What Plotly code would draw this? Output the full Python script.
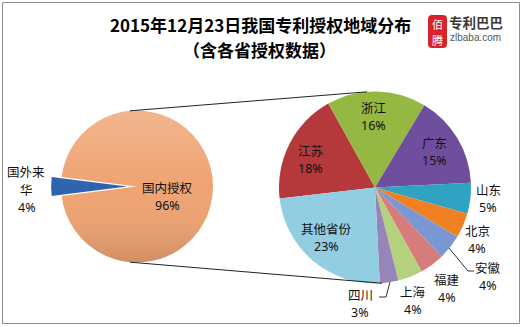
import base64
import math
import plotly.graph_objects as go

W, H = 521, 327

# Overall split of patent grants
main_labels = ["国外来华", "国内授权"]
main_values = [4, 96]
main_colors = ["#2E63AE", "#EFA372"]

# Breakdown of domestic grants by province (percent of all grants)
prov_labels = ["江苏", "浙江", "广东", "山东", "北京", "安徽", "福建", "上海", "四川", "其他省份"]
prov_values = [18, 16, 15, 5, 4, 4, 4, 4, 3, 23]
prov_colors = ["#B5393A", "#95B842", "#6F4F9D", "#2FA3C1", "#F08123",
               "#7A96D3", "#D67C7A", "#B4D17D", "#9785BA", "#92CDE2"]

title_lines = ["2015年12月23日我国专利授权地域分布", "（含各省授权数据）"]

# Layout geometry in pixels (origin top-left)
L_CX, L_CY, L_R, L_PULL = 137, 186.5, 76, 0.13
R_CX, R_CY, R_R = 375, 187.5, 96
R_ROTATION = 263.4

# Label anchor points: centre of the name line (pixels)
label_pos = {
    "国内授权": (167, 187), "江苏": (310, 150), "浙江": (373, 107),
    "广东": (434, 142), "其他省份": (326, 228), "山东": (488, 189),
    "北京": (477, 230), "安徽": (488, 267), "福建": (447, 279),
    "上海": (413, 291), "四川": (360, 294),
}
LINE_GAP = 18.2

CJK = "Noto Sans CJK SC, sans-serif"
LATIN = "Noto Sans, sans-serif"


def px(x):
    return x / W


def py(y):
    return 1 - y / H


def domain(cx, cy, r, pull=0.0):
    h = r * (1 + pull)
    return dict(x=[px(cx - h), px(cx + h)], y=[py(cy + h), py(cy - h)])


fig = go.Figure()

main_rotation = 270 - 360 * main_values[0] / sum(main_values) / 2
fig.add_trace(go.Pie(
    labels=main_labels, values=main_values, sort=False, direction="clockwise",
    rotation=main_rotation, pull=[L_PULL, 0], textinfo="none", hoverinfo="label+value",
    marker=dict(colors=main_colors, line=dict(width=0)),
    domain=domain(L_CX, L_CY, L_R, L_PULL), showlegend=False,
))

fig.add_trace(go.Pie(
    labels=prov_labels, values=prov_values, sort=False, direction="clockwise",
    rotation=R_ROTATION, textinfo="none", hoverinfo="label+value",
    marker=dict(colors=prov_colors, line=dict(width=0)),
    domain=domain(R_CX, R_CY, R_R), showlegend=False,
))

# soft top-to-bottom shading over the main pie
shade_svg = (
    '<svg xmlns="http://www.w3.org/2000/svg" width="200" height="200">'
    '<defs><linearGradient id="g" x1="0" y1="0" x2="0" y2="1">'
    '<stop offset="0" stop-color="#ffffff" stop-opacity="0.2"/>'
    '<stop offset="0.5" stop-color="#ffffff" stop-opacity="0"/>'
    '<stop offset="1" stop-color="#000000" stop-opacity="0.13"/>'
    '</linearGradient></defs>'
    '<circle cx="100" cy="100" r="100" fill="url(#g)"/></svg>'
)
shade_src = "data:image/svg+xml;base64," + base64.b64encode(shade_svg.encode()).decode()
images = [dict(source=shade_src, xref="paper", yref="paper",
               x=px(L_CX - L_R), y=py(L_CY - L_R), sizex=2 * L_R / W, sizey=2 * L_R / H,
               xanchor="left", yanchor="top", sizing="stretch", layer="above")]

shapes = []
# chart frame
shapes.append(dict(type="rect", xref="paper", yref="paper",
                   x0=px(2.5), x1=px(519.5), y0=py(323.5), y1=py(2.5),
                   line=dict(color="#8C8C8C", width=1)))

# connector lines between the two pies
ldx, rdx_top, rdx_bot = -7, -8, 7
l_dy = math.sqrt(L_R ** 2 - ldx ** 2)
r_dy_top = math.sqrt(R_R ** 2 - rdx_top ** 2)
r_dy_bot = math.sqrt(R_R ** 2 - rdx_bot ** 2)
for (x0, y0, x1, y1) in [
    (L_CX + ldx, L_CY - l_dy, R_CX + rdx_top, R_CY - r_dy_top),
    (L_CX + ldx, L_CY + l_dy, R_CX + rdx_bot, R_CY + r_dy_bot),
]:
    shapes.append(dict(type="line", xref="paper", yref="paper",
                       x0=px(x0), y0=py(y0), x1=px(x1), y1=py(y1),
                       line=dict(color="#222222", width=1)))

# leader lines for two outside labels
for pts in [[(449, 248), (468, 271), (474, 271)], [(390, 282), (386, 297), (379, 297)]]:
    path = "M " + " L ".join(f"{px(x):.5f},{py(y):.5f}" for x, y in pts)
    shapes.append(dict(type="path", xref="paper", yref="paper", path=path,
                       line=dict(color="#333333", width=1)))

# logo badge
bx0, bx1, by0, by1, rr = 428, 447, 15, 48, 4
badge = (f"M {px(bx0 + rr)},{py(by0)} L {px(bx1 - rr)},{py(by0)} "
         f"Q {px(bx1)},{py(by0)} {px(bx1)},{py(by0 + rr)} L {px(bx1)},{py(by1 - rr)} "
         f"Q {px(bx1)},{py(by1)} {px(bx1 - rr)},{py(by1)} L {px(bx0 + rr)},{py(by1)} "
         f"Q {px(bx0)},{py(by1)} {px(bx0)},{py(by1 - rr)} L {px(bx0)},{py(by0 + rr)} "
         f"Q {px(bx0)},{py(by0)} {px(bx0 + rr)},{py(by0)} Z")
shapes.append(dict(type="path", xref="paper", yref="paper", path=badge,
                   fillcolor="#D8232A", line=dict(width=0)))

annotations = []


def add_text(text, x, y, size, color="#111111", family=CJK, bold=False, xanchor="center"):
    if bold:
        text = f"<b>{text}</b>"
    annotations.append(dict(text=text, x=px(x), y=py(y), xref="paper", yref="paper",
                            xanchor=xanchor, yanchor="middle", showarrow=False, borderpad=0,
                            font=dict(family=family, size=size, color=color)))


add_text(title_lines[0], 260, 24, 17, "#000000", bold=True)
add_text(title_lines[1], 259, 49.5, 17, "#000000", bold=True)

add_text("佰", 437.5, 23.5, 11, "#FFFFFF")
add_text("腾", 437.5, 39.5, 11, "#FFFFFF")
add_text("专利巴巴", 448, 21.5, 13.5, "#3A3A3A", bold=True, xanchor="left")
add_text("zlbaba.com", 449, 37.5, 10, "#555555", family="Liberation Sans, sans-serif",
         xanchor="left")

# foreign grants label wraps over two lines to the left of the pie
add_text(main_labels[0][:3], 26, 171, 12.5)
add_text(main_labels[0][3:], 26, 189.2, 12.5)
add_text(f"{main_values[0]}%", 27, 207.4, 12.5, family=LATIN)

for name, val in zip(main_labels[1:] + prov_labels, main_values[1:] + prov_values):
    x, y = label_pos[name]
    add_text(name, x, y, 12.5)
    add_text(f"{val}%", x, y + LINE_GAP, 12.5, family=LATIN)

fig.update_layout(
    width=W, height=H, margin=dict(l=0, r=0, t=0, b=0),
    paper_bgcolor="#FFFFFF", plot_bgcolor="#FFFFFF",
    shapes=shapes, annotations=annotations, images=images,
)

fig.write_html("out.html")
